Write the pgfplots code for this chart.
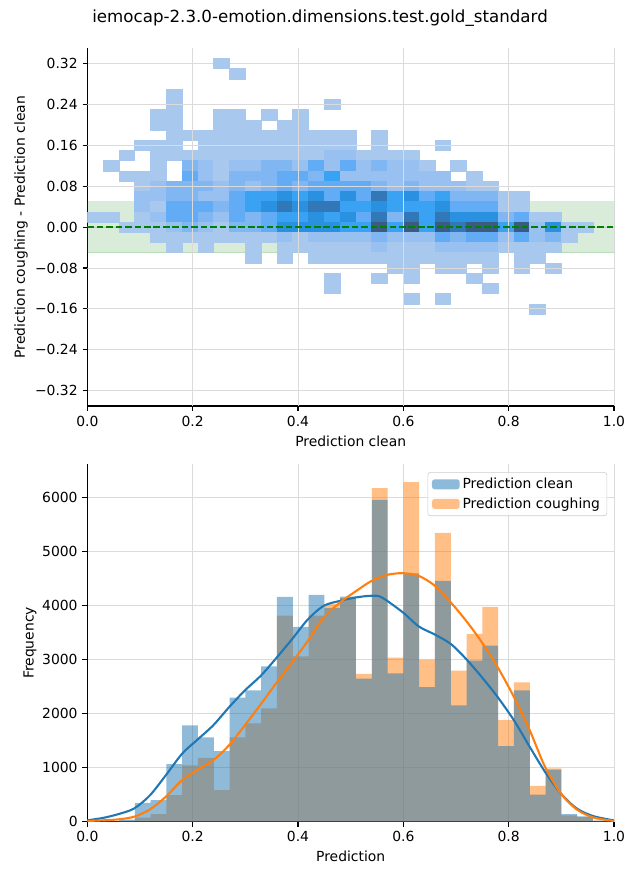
\documentclass[border=0pt]{standalone}
\usepackage{fontspec}
\setmainfont{DejaVu Sans}
\usepackage{pgfplots}
\pgfplotsset{compat=1.18}
\usepgfplotslibrary{patchplots}
\definecolor{c0}{HTML}{1F77B4}
\definecolor{c1}{HTML}{FF7F0E}
\definecolor{mplgreen}{HTML}{008000}
\definecolor{gridc}{gray}{0.86}
\pgfplotsset{
  mystyle/.style={
    scale only axis, width=379.2pt,
    xmin=0, xmax=1,
    axis x line*=bottom, axis y line*=left,
    axis line style={-, line width=0.8pt},
    tick align=outside, major tick length=3.5pt,
    tick style={line width=0.8pt, black},
    xtick={0,0.2,0.4,0.6,0.8,1},
    xticklabels={0.0,0.2,0.4,0.6,0.8,1.0},
    grid=major, grid style={line width=0.6pt, color=gridc},
    font=\fontsize{10}{12}\selectfont,
    ticklabel style={font=\fontsize{10}{12}\selectfont},
    xlabel style={at={(axis description cs:0.5,-0.098)}, anchor=center},
  },
  gridover/.style={line width=0.6pt, color=gridc, forget plot},
}
\begin{document}
\begin{tikzpicture}
\path[use as bounding box] (0,0) rectangle (460.8pt,633.6pt);
\begin{axis}[mystyle,
  at={(62.9pt,341.3pt)}, anchor=south west, height=257.5pt,
  ymin=-0.35, ymax=0.35,
  ytick={-0.32,-0.24,-0.16,-0.08,0,0.08,0.16,0.24,0.32},
  yticklabels={−0.32,−0.24,−0.16,−0.08,0.00,0.08,0.16,0.24,0.32},
  xlabel={Prediction clean},
  ylabel={Prediction coughing - Prediction clean},
  ylabel style={at={(axis description cs:-0.126,0.5)}, anchor=center},
  title={iemocap-2.3.0-emotion.dimensions.test.gold\_standard},
  title style={at={(axis description cs:0.4418,1.0615)}, anchor=center, font=\fontsize{12}{14}\selectfont},
  colormap={heat}{rgb255=(168,200,238) rgb255=(152,192,240) rgb255=(128,182,242) rgb255=(98,172,245) rgb255=(58,162,242) rgb255=(42,144,224) rgb255=(50,120,184) rgb255=(58,92,130)},
  point meta min=1, point meta max=8,
]
\addplot[draw=mplgreen, draw opacity=0.15, fill=mplgreen, fill opacity=0.15] coordinates {(0,-0.05) (1,-0.05) (1,0.05) (0,0.05)} -- cycle;
\addplot[patch, patch type=rectangle, shader=flat, point meta=explicit] table[meta=c, row sep=\\] {
x y c\\
0.24 0.31 1\\ 0.27 0.31 1\\ 0.27 0.33 1\\ 0.24 0.33 1\\
0.27 0.29 1\\ 0.30 0.29 1\\ 0.30 0.31 1\\ 0.27 0.31 1\\
0.15 0.25 1\\ 0.18 0.25 1\\ 0.18 0.27 1\\ 0.15 0.27 1\\
0.15 0.23 1\\ 0.18 0.23 1\\ 0.18 0.25 1\\ 0.15 0.25 1\\
0.45 0.23 1\\ 0.48 0.23 1\\ 0.48 0.25 1\\ 0.45 0.25 1\\
0.12 0.21 1\\ 0.18 0.21 1\\ 0.18 0.23 1\\ 0.12 0.23 1\\
0.24 0.21 1\\ 0.30 0.21 1\\ 0.30 0.23 1\\ 0.24 0.23 1\\
0.33 0.21 1\\ 0.36 0.21 1\\ 0.36 0.23 1\\ 0.33 0.23 1\\
0.39 0.21 1\\ 0.42 0.21 1\\ 0.42 0.23 1\\ 0.39 0.23 1\\
0.12 0.19 1\\ 0.18 0.19 1\\ 0.18 0.21 1\\ 0.12 0.21 1\\
0.24 0.19 1\\ 0.33 0.19 1\\ 0.33 0.21 1\\ 0.24 0.21 1\\
0.36 0.19 1\\ 0.42 0.19 1\\ 0.42 0.21 1\\ 0.36 0.21 1\\
0.15 0.17 1\\ 0.51 0.17 1\\ 0.51 0.19 1\\ 0.15 0.19 1\\
0.54 0.17 1\\ 0.57 0.17 1\\ 0.57 0.19 1\\ 0.54 0.19 1\\
0.09 0.15 1\\ 0.18 0.15 1\\ 0.18 0.17 1\\ 0.09 0.17 1\\
0.21 0.15 1\\ 0.51 0.15 1\\ 0.51 0.17 1\\ 0.21 0.17 1\\
0.54 0.15 1\\ 0.57 0.15 1\\ 0.57 0.17 1\\ 0.54 0.17 1\\
0.66 0.15 1\\ 0.69 0.15 1\\ 0.69 0.17 1\\ 0.66 0.17 1\\
0.06 0.13 1\\ 0.09 0.13 1\\ 0.09 0.15 1\\ 0.06 0.15 1\\
0.12 0.13 1\\ 0.45 0.13 1\\ 0.45 0.15 1\\ 0.12 0.15 1\\
0.45 0.13 2\\ 0.51 0.13 2\\ 0.51 0.15 2\\ 0.45 0.15 2\\
0.51 0.13 1\\ 0.63 0.13 1\\ 0.63 0.15 1\\ 0.51 0.15 1\\
0.03 0.11 1\\ 0.06 0.11 1\\ 0.06 0.13 1\\ 0.03 0.13 1\\
0.12 0.11 1\\ 0.15 0.11 1\\ 0.15 0.13 1\\ 0.12 0.13 1\\
0.18 0.11 3\\ 0.21 0.11 3\\ 0.21 0.13 3\\ 0.18 0.13 3\\
0.21 0.11 2\\ 0.24 0.11 2\\ 0.24 0.13 2\\ 0.21 0.13 2\\
0.24 0.11 1\\ 0.27 0.11 1\\ 0.27 0.13 1\\ 0.24 0.13 1\\
0.27 0.11 2\\ 0.33 0.11 2\\ 0.33 0.13 2\\ 0.27 0.13 2\\
0.33 0.11 3\\ 0.39 0.11 3\\ 0.39 0.13 3\\ 0.33 0.13 3\\
0.39 0.11 2\\ 0.42 0.11 2\\ 0.42 0.13 2\\ 0.39 0.13 2\\
0.42 0.11 4\\ 0.45 0.11 4\\ 0.45 0.13 4\\ 0.42 0.13 4\\
0.45 0.11 2\\ 0.48 0.11 2\\ 0.48 0.13 2\\ 0.45 0.13 2\\
0.48 0.11 4\\ 0.51 0.11 4\\ 0.51 0.13 4\\ 0.48 0.13 4\\
0.51 0.11 2\\ 0.54 0.11 2\\ 0.54 0.13 2\\ 0.51 0.13 2\\
0.54 0.11 3\\ 0.57 0.11 3\\ 0.57 0.13 3\\ 0.54 0.13 3\\
0.57 0.11 2\\ 0.63 0.11 2\\ 0.63 0.13 2\\ 0.57 0.13 2\\
0.63 0.11 1\\ 0.66 0.11 1\\ 0.66 0.13 1\\ 0.63 0.13 1\\
0.69 0.11 1\\ 0.72 0.11 1\\ 0.72 0.13 1\\ 0.69 0.13 1\\
0.06 0.09 1\\ 0.15 0.09 1\\ 0.15 0.11 1\\ 0.06 0.11 1\\
0.18 0.09 4\\ 0.21 0.09 4\\ 0.21 0.11 4\\ 0.18 0.11 4\\
0.21 0.09 2\\ 0.24 0.09 2\\ 0.24 0.11 2\\ 0.21 0.11 2\\
0.24 0.09 1\\ 0.27 0.09 1\\ 0.27 0.11 1\\ 0.24 0.11 1\\
0.27 0.09 3\\ 0.36 0.09 3\\ 0.36 0.11 3\\ 0.27 0.11 3\\
0.36 0.09 4\\ 0.42 0.09 4\\ 0.42 0.11 4\\ 0.36 0.11 4\\
0.42 0.09 3\\ 0.45 0.09 3\\ 0.45 0.11 3\\ 0.42 0.11 3\\
0.45 0.09 5\\ 0.48 0.09 5\\ 0.48 0.11 5\\ 0.45 0.11 5\\
0.48 0.09 2\\ 0.69 0.09 2\\ 0.69 0.11 2\\ 0.48 0.11 2\\
0.72 0.09 1\\ 0.75 0.09 1\\ 0.75 0.11 1\\ 0.72 0.11 1\\
0.09 0.07 1\\ 0.12 0.07 1\\ 0.12 0.09 1\\ 0.09 0.09 1\\
0.12 0.07 2\\ 0.15 0.07 2\\ 0.15 0.09 2\\ 0.12 0.09 2\\
0.15 0.07 3\\ 0.24 0.07 3\\ 0.24 0.09 3\\ 0.15 0.09 3\\
0.24 0.07 2\\ 0.27 0.07 2\\ 0.27 0.09 2\\ 0.24 0.09 2\\
0.27 0.07 3\\ 0.30 0.07 3\\ 0.30 0.09 3\\ 0.27 0.09 3\\
0.30 0.07 2\\ 0.33 0.07 2\\ 0.33 0.09 2\\ 0.30 0.09 2\\
0.33 0.07 3\\ 0.36 0.07 3\\ 0.36 0.09 3\\ 0.33 0.09 3\\
0.36 0.07 4\\ 0.39 0.07 4\\ 0.39 0.09 4\\ 0.36 0.09 4\\
0.39 0.07 3\\ 0.42 0.07 3\\ 0.42 0.09 3\\ 0.39 0.09 3\\
0.42 0.07 4\\ 0.54 0.07 4\\ 0.54 0.09 4\\ 0.42 0.09 4\\
0.54 0.07 3\\ 0.57 0.07 3\\ 0.57 0.09 3\\ 0.54 0.09 3\\
0.57 0.07 2\\ 0.60 0.07 2\\ 0.60 0.09 2\\ 0.57 0.09 2\\
0.60 0.07 3\\ 0.63 0.07 3\\ 0.63 0.09 3\\ 0.60 0.09 3\\
0.63 0.07 2\\ 0.72 0.07 2\\ 0.72 0.09 2\\ 0.63 0.09 2\\
0.72 0.07 1\\ 0.78 0.07 1\\ 0.78 0.09 1\\ 0.72 0.09 1\\
0.09 0.05 2\\ 0.15 0.05 2\\ 0.15 0.07 2\\ 0.09 0.07 2\\
0.15 0.05 3\\ 0.21 0.05 3\\ 0.21 0.07 3\\ 0.15 0.07 3\\
0.21 0.05 2\\ 0.27 0.05 2\\ 0.27 0.07 2\\ 0.21 0.07 2\\
0.27 0.05 4\\ 0.30 0.05 4\\ 0.30 0.07 4\\ 0.27 0.07 4\\
0.30 0.05 5\\ 0.36 0.05 5\\ 0.36 0.07 5\\ 0.30 0.07 5\\
0.36 0.05 6\\ 0.39 0.05 6\\ 0.39 0.07 6\\ 0.36 0.07 6\\
0.39 0.05 5\\ 0.42 0.05 5\\ 0.42 0.07 5\\ 0.39 0.07 5\\
0.42 0.05 6\\ 0.45 0.05 6\\ 0.45 0.07 6\\ 0.42 0.07 6\\
0.45 0.05 4\\ 0.48 0.05 4\\ 0.48 0.07 4\\ 0.45 0.07 4\\
0.48 0.05 6\\ 0.51 0.05 6\\ 0.51 0.07 6\\ 0.48 0.07 6\\
0.51 0.05 4\\ 0.54 0.05 4\\ 0.54 0.07 4\\ 0.51 0.07 4\\
0.54 0.05 7\\ 0.57 0.05 7\\ 0.57 0.07 7\\ 0.54 0.07 7\\
0.57 0.05 5\\ 0.60 0.05 5\\ 0.60 0.07 5\\ 0.57 0.07 5\\
0.60 0.05 6\\ 0.63 0.05 6\\ 0.63 0.07 6\\ 0.60 0.07 6\\
0.63 0.05 4\\ 0.66 0.05 4\\ 0.66 0.07 4\\ 0.63 0.07 4\\
0.66 0.05 5\\ 0.69 0.05 5\\ 0.69 0.07 5\\ 0.66 0.07 5\\
0.69 0.05 3\\ 0.78 0.05 3\\ 0.78 0.07 3\\ 0.69 0.07 3\\
0.78 0.05 1\\ 0.84 0.05 1\\ 0.84 0.07 1\\ 0.78 0.07 1\\
0.09 0.03 2\\ 0.12 0.03 2\\ 0.12 0.05 2\\ 0.09 0.05 2\\
0.12 0.03 1\\ 0.15 0.03 1\\ 0.15 0.05 1\\ 0.12 0.05 1\\
0.15 0.03 4\\ 0.24 0.03 4\\ 0.24 0.05 4\\ 0.15 0.05 4\\
0.24 0.03 3\\ 0.27 0.03 3\\ 0.27 0.05 3\\ 0.24 0.05 3\\
0.27 0.03 4\\ 0.30 0.03 4\\ 0.30 0.05 4\\ 0.27 0.05 4\\
0.30 0.03 5\\ 0.33 0.03 5\\ 0.33 0.05 5\\ 0.30 0.05 5\\
0.33 0.03 6\\ 0.36 0.03 6\\ 0.36 0.05 6\\ 0.33 0.05 6\\
0.36 0.03 7\\ 0.39 0.03 7\\ 0.39 0.05 7\\ 0.36 0.05 7\\
0.39 0.03 6\\ 0.42 0.03 6\\ 0.42 0.05 6\\ 0.39 0.05 6\\
0.42 0.03 7\\ 0.48 0.03 7\\ 0.48 0.05 7\\ 0.42 0.05 7\\
0.48 0.03 5\\ 0.54 0.03 5\\ 0.54 0.05 5\\ 0.48 0.05 5\\
0.54 0.03 6\\ 0.57 0.03 6\\ 0.57 0.05 6\\ 0.54 0.05 6\\
0.57 0.03 5\\ 0.66 0.03 5\\ 0.66 0.05 5\\ 0.57 0.05 5\\
0.66 0.03 6\\ 0.69 0.03 6\\ 0.69 0.05 6\\ 0.66 0.05 6\\
0.69 0.03 4\\ 0.78 0.03 4\\ 0.78 0.05 4\\ 0.69 0.05 4\\
0.78 0.03 1\\ 0.84 0.03 1\\ 0.84 0.05 1\\ 0.78 0.05 1\\
0.00 0.01 1\\ 0.06 0.01 1\\ 0.06 0.03 1\\ 0.00 0.03 1\\
0.09 0.01 1\\ 0.12 0.01 1\\ 0.12 0.03 1\\ 0.09 0.03 1\\
0.12 0.01 2\\ 0.15 0.01 2\\ 0.15 0.03 2\\ 0.12 0.03 2\\
0.15 0.01 4\\ 0.21 0.01 4\\ 0.21 0.03 4\\ 0.15 0.03 4\\
0.21 0.01 3\\ 0.24 0.01 3\\ 0.24 0.03 3\\ 0.21 0.03 3\\
0.24 0.01 2\\ 0.27 0.01 2\\ 0.27 0.03 2\\ 0.24 0.03 2\\
0.27 0.01 4\\ 0.30 0.01 4\\ 0.30 0.03 4\\ 0.27 0.03 4\\
0.30 0.01 3\\ 0.33 0.01 3\\ 0.33 0.03 3\\ 0.30 0.03 3\\
0.33 0.01 4\\ 0.36 0.01 4\\ 0.36 0.03 4\\ 0.33 0.03 4\\
0.36 0.01 5\\ 0.42 0.01 5\\ 0.42 0.03 5\\ 0.36 0.03 5\\
0.42 0.01 6\\ 0.45 0.01 6\\ 0.45 0.03 6\\ 0.42 0.03 6\\
0.45 0.01 5\\ 0.48 0.01 5\\ 0.48 0.03 5\\ 0.45 0.03 5\\
0.48 0.01 6\\ 0.51 0.01 6\\ 0.51 0.03 6\\ 0.48 0.03 6\\
0.51 0.01 4\\ 0.54 0.01 4\\ 0.54 0.03 4\\ 0.51 0.03 4\\
0.54 0.01 7\\ 0.57 0.01 7\\ 0.57 0.03 7\\ 0.54 0.03 7\\
0.57 0.01 3\\ 0.60 0.01 3\\ 0.60 0.03 3\\ 0.57 0.03 3\\
0.60 0.01 7\\ 0.63 0.01 7\\ 0.63 0.03 7\\ 0.60 0.03 7\\
0.63 0.01 5\\ 0.66 0.01 5\\ 0.66 0.03 5\\ 0.63 0.03 5\\
0.66 0.01 7\\ 0.69 0.01 7\\ 0.69 0.03 7\\ 0.66 0.03 7\\
0.69 0.01 6\\ 0.78 0.01 6\\ 0.78 0.03 6\\ 0.69 0.03 6\\
0.78 0.01 3\\ 0.81 0.01 3\\ 0.81 0.03 3\\ 0.78 0.03 3\\
0.81 0.01 4\\ 0.84 0.01 4\\ 0.84 0.03 4\\ 0.81 0.03 4\\
0.84 0.01 1\\ 0.90 0.01 1\\ 0.90 0.03 1\\ 0.84 0.03 1\\
0.06 -0.01 1\\ 0.15 -0.01 1\\ 0.15 0.01 1\\ 0.06 0.01 1\\
0.15 -0.01 2\\ 0.18 -0.01 2\\ 0.18 0.01 2\\ 0.15 0.01 2\\
0.18 -0.01 3\\ 0.21 -0.01 3\\ 0.21 0.01 3\\ 0.18 0.01 3\\
0.21 -0.01 2\\ 0.24 -0.01 2\\ 0.24 0.01 2\\ 0.21 0.01 2\\
0.24 -0.01 1\\ 0.27 -0.01 1\\ 0.27 0.01 1\\ 0.24 0.01 1\\
0.27 -0.01 3\\ 0.33 -0.01 3\\ 0.33 0.01 3\\ 0.27 0.01 3\\
0.33 -0.01 4\\ 0.36 -0.01 4\\ 0.36 0.01 4\\ 0.33 0.01 4\\
0.36 -0.01 6\\ 0.48 -0.01 6\\ 0.48 0.01 6\\ 0.36 0.01 6\\
0.48 -0.01 5\\ 0.54 -0.01 5\\ 0.54 0.01 5\\ 0.48 0.01 5\\
0.54 -0.01 8\\ 0.57 -0.01 8\\ 0.57 0.01 8\\ 0.54 0.01 8\\
0.57 -0.01 5\\ 0.60 -0.01 5\\ 0.60 0.01 5\\ 0.57 0.01 5\\
0.60 -0.01 8\\ 0.63 -0.01 8\\ 0.63 0.01 8\\ 0.60 0.01 8\\
0.63 -0.01 5\\ 0.66 -0.01 5\\ 0.66 0.01 5\\ 0.63 0.01 5\\
0.66 -0.01 8\\ 0.69 -0.01 8\\ 0.69 0.01 8\\ 0.66 0.01 8\\
0.69 -0.01 7\\ 0.72 -0.01 7\\ 0.72 0.01 7\\ 0.69 0.01 7\\
0.72 -0.01 8\\ 0.78 -0.01 8\\ 0.78 0.01 8\\ 0.72 0.01 8\\
0.78 -0.01 5\\ 0.81 -0.01 5\\ 0.81 0.01 5\\ 0.78 0.01 5\\
0.81 -0.01 8\\ 0.84 -0.01 8\\ 0.84 0.01 8\\ 0.81 0.01 8\\
0.84 -0.01 2\\ 0.87 -0.01 2\\ 0.87 0.01 2\\ 0.84 0.01 2\\
0.87 -0.01 6\\ 0.90 -0.01 6\\ 0.90 0.01 6\\ 0.87 0.01 6\\
0.90 -0.01 1\\ 0.96 -0.01 1\\ 0.96 0.01 1\\ 0.90 0.01 1\\
0.12 -0.03 1\\ 0.36 -0.03 1\\ 0.36 -0.01 1\\ 0.12 -0.01 1\\
0.36 -0.03 2\\ 0.39 -0.03 2\\ 0.39 -0.01 2\\ 0.36 -0.01 2\\
0.39 -0.03 1\\ 0.42 -0.03 1\\ 0.42 -0.01 1\\ 0.39 -0.01 1\\
0.42 -0.03 2\\ 0.54 -0.03 2\\ 0.54 -0.01 2\\ 0.42 -0.01 2\\
0.54 -0.03 3\\ 0.57 -0.03 3\\ 0.57 -0.01 3\\ 0.54 -0.01 3\\
0.57 -0.03 2\\ 0.66 -0.03 2\\ 0.66 -0.01 2\\ 0.57 -0.01 2\\
0.66 -0.03 4\\ 0.69 -0.03 4\\ 0.69 -0.01 4\\ 0.66 -0.01 4\\
0.69 -0.03 3\\ 0.72 -0.03 3\\ 0.72 -0.01 3\\ 0.69 -0.01 3\\
0.72 -0.03 4\\ 0.78 -0.03 4\\ 0.78 -0.01 4\\ 0.72 -0.01 4\\
0.78 -0.03 2\\ 0.81 -0.03 2\\ 0.81 -0.01 2\\ 0.78 -0.01 2\\
0.81 -0.03 4\\ 0.84 -0.03 4\\ 0.84 -0.01 4\\ 0.81 -0.01 4\\
0.84 -0.03 2\\ 0.87 -0.03 2\\ 0.87 -0.01 2\\ 0.84 -0.01 2\\
0.87 -0.03 3\\ 0.90 -0.03 3\\ 0.90 -0.01 3\\ 0.87 -0.01 3\\
0.90 -0.03 1\\ 0.93 -0.03 1\\ 0.93 -0.01 1\\ 0.90 -0.01 1\\
0.15 -0.05 1\\ 0.18 -0.05 1\\ 0.18 -0.03 1\\ 0.15 -0.03 1\\
0.21 -0.05 1\\ 0.24 -0.05 1\\ 0.24 -0.03 1\\ 0.21 -0.03 1\\
0.30 -0.05 1\\ 0.33 -0.05 1\\ 0.33 -0.03 1\\ 0.30 -0.03 1\\
0.36 -0.05 1\\ 0.54 -0.05 1\\ 0.54 -0.03 1\\ 0.36 -0.03 1\\
0.54 -0.05 2\\ 0.57 -0.05 2\\ 0.57 -0.03 2\\ 0.54 -0.03 2\\
0.57 -0.05 1\\ 0.66 -0.05 1\\ 0.66 -0.03 1\\ 0.57 -0.03 1\\
0.66 -0.05 2\\ 0.78 -0.05 2\\ 0.78 -0.03 2\\ 0.66 -0.03 2\\
0.78 -0.05 1\\ 0.90 -0.05 1\\ 0.90 -0.03 1\\ 0.78 -0.03 1\\
0.30 -0.07 1\\ 0.33 -0.07 1\\ 0.33 -0.05 1\\ 0.30 -0.05 1\\
0.36 -0.07 1\\ 0.39 -0.07 1\\ 0.39 -0.05 1\\ 0.36 -0.05 1\\
0.42 -0.07 1\\ 0.78 -0.07 1\\ 0.78 -0.05 1\\ 0.42 -0.05 1\\
0.81 -0.07 1\\ 0.87 -0.07 1\\ 0.87 -0.05 1\\ 0.81 -0.05 1\\
0.57 -0.09 1\\ 0.63 -0.09 1\\ 0.63 -0.07 1\\ 0.57 -0.07 1\\
0.66 -0.09 1\\ 0.72 -0.09 1\\ 0.72 -0.07 1\\ 0.66 -0.07 1\\
0.75 -0.09 1\\ 0.78 -0.09 1\\ 0.78 -0.07 1\\ 0.75 -0.07 1\\
0.81 -0.09 1\\ 0.84 -0.09 1\\ 0.84 -0.07 1\\ 0.81 -0.07 1\\
0.87 -0.09 1\\ 0.90 -0.09 1\\ 0.90 -0.07 1\\ 0.87 -0.07 1\\
0.45 -0.11 1\\ 0.48 -0.11 1\\ 0.48 -0.09 1\\ 0.45 -0.09 1\\
0.54 -0.11 1\\ 0.57 -0.11 1\\ 0.57 -0.09 1\\ 0.54 -0.09 1\\
0.60 -0.11 1\\ 0.63 -0.11 1\\ 0.63 -0.09 1\\ 0.60 -0.09 1\\
0.72 -0.11 1\\ 0.75 -0.11 1\\ 0.75 -0.09 1\\ 0.72 -0.09 1\\
0.45 -0.13 1\\ 0.48 -0.13 1\\ 0.48 -0.11 1\\ 0.45 -0.11 1\\
0.75 -0.13 1\\ 0.78 -0.13 1\\ 0.78 -0.11 1\\ 0.75 -0.11 1\\
0.60 -0.15 1\\ 0.63 -0.15 1\\ 0.63 -0.13 1\\ 0.60 -0.13 1\\
0.66 -0.15 1\\ 0.69 -0.15 1\\ 0.69 -0.13 1\\ 0.66 -0.13 1\\
0.84 -0.17 1\\ 0.87 -0.17 1\\ 0.87 -0.15 1\\ 0.84 -0.15 1\\
};
% grid lines over the cells
\addplot[gridover] coordinates {(0.2,-0.35) (0.2,0.35)};
\addplot[gridover] coordinates {(0.4,-0.35) (0.4,0.35)};
\addplot[gridover] coordinates {(0.6,-0.35) (0.6,0.35)};
\addplot[gridover] coordinates {(0.8,-0.35) (0.8,0.35)};
\addplot[gridover] coordinates {(0,0.24) (1,0.24)};
\addplot[gridover] coordinates {(0,0.16) (1,0.16)};
\addplot[gridover] coordinates {(0,0.08) (1,0.08)};
\addplot[gridover] coordinates {(0,-0.08) (1,-0.08)};
\addplot[gridover] coordinates {(0,-0.16) (1,-0.16)};
\addplot[draw=mplgreen, line width=1.6pt, dash pattern=on 4.8pt off 2pt] coordinates {(0,0) (1,0)};
\end{axis}

\begin{axis}[mystyle,
  at={(62.9pt,42.0pt)}, anchor=south west, height=257.3pt,
  ymin=0, ymax=6620,
  ytick={0,1000,2000,3000,4000,5000,6000},
  yticklabels={0,1000,2000,3000,4000,5000,6000},
  xlabel={Prediction},
  ylabel={Frequency},
  ylabel style={at={(axis description cs:-0.109,0.5)}, anchor=center},
  legend cell align=left,
  legend image code/.code={\fill[#1, draw=none] (0pt,-3.6pt) rectangle (20pt,3.6pt);},
  legend style={at={(axis description cs:0.987,0.978)}, anchor=north east,
    draw=black!20, rounded corners=2pt, fill=white, fill opacity=0.8, text opacity=1,
    font=\fontsize{10}{12}\selectfont, inner xsep=3pt, inner ysep=2pt, row sep=1pt},
]
\addlegendimage{fill=c0, fill opacity=0.5, draw=none}
\addlegendentry{Prediction clean}
\addlegendimage{fill=c1, fill opacity=0.5, draw=none}
\addlegendentry{Prediction coughing}
% coughing histogram
\addplot[ybar interval, fill=c1, fill opacity=0.5, draw=none, forget plot] coordinates {
(0.00,0) (0.03,5) (0.06,20) (0.09,75) (0.12,140) (0.15,490) (0.18,1045) (0.21,1180)
(0.24,585) (0.27,1560) (0.30,1820) (0.33,2100) (0.36,3815) (0.39,3060) (0.42,3815)
(0.45,4030) (0.48,4140) (0.51,2740) (0.54,6180) (0.57,3040) (0.60,6290) (0.63,3000)
(0.66,5350) (0.69,2800) (0.72,3480) (0.75,3980) (0.78,1880) (0.81,2580) (0.84,665)
(0.87,985) (0.90,115) (0.93,90) (0.96,20) (0.99,0)};
% clean histogram
\addplot[ybar interval, fill=c0, fill opacity=0.5, draw=none, forget plot] coordinates {
(0.00,0) (0.03,10) (0.06,40) (0.09,350) (0.12,400) (0.15,1065) (0.18,1785) (0.21,1563)
(0.24,1305) (0.27,2300) (0.30,2430) (0.33,2875) (0.36,4165) (0.39,3610) (0.42,4200)
(0.45,3960) (0.48,4170) (0.51,2650) (0.54,5960) (0.57,2745) (0.60,4600) (0.63,2490)
(0.66,4460) (0.69,2155) (0.72,2985) (0.75,3260) (0.78,1400) (0.81,2430) (0.84,500)
(0.87,965) (0.90,140) (0.93,100) (0.96,20) (0.99,0)};
% KDE clean
\addplot[c0, line width=1.5pt, smooth, forget plot] coordinates {
(0.000,25) (0.030,70) (0.059,140) (0.089,245) (0.119,490) (0.149,860) (0.180,1260)
(0.208,1510) (0.239,1785) (0.269,2120) (0.299,2430) (0.330,2710) (0.360,3045)
(0.389,3385) (0.419,3750) (0.449,4000) (0.480,4090) (0.510,4154) (0.540,4185)
(0.559,4154) (0.599,3877) (0.629,3618) (0.660,3465) (0.690,3292) (0.719,3015)
(0.749,2677) (0.779,2308) (0.810,1877) (0.840,1385) (0.869,923) (0.899,523)
(0.929,246) (0.960,105) (0.995,31) (1.000,25)};
% KDE coughing
\addplot[c1, line width=1.5pt, smooth, forget plot] coordinates {
(0.000,12) (0.030,25) (0.059,43) (0.089,92) (0.119,228) (0.149,462) (0.180,770)
(0.208,954) (0.239,1138) (0.269,1415) (0.299,1785) (0.330,2185) (0.360,2585)
(0.389,2954) (0.419,3354) (0.449,3785) (0.480,4062) (0.510,4270) (0.540,4462)
(0.569,4572) (0.599,4603) (0.629,4554) (0.660,4369) (0.690,4062) (0.719,3723)
(0.749,3323) (0.779,2862) (0.810,2308) (0.840,1692) (0.869,1015) (0.899,523)
(0.929,228) (0.960,80) (0.995,18) (1.000,15)};
\end{axis}
\end{tikzpicture}
\end{document}
